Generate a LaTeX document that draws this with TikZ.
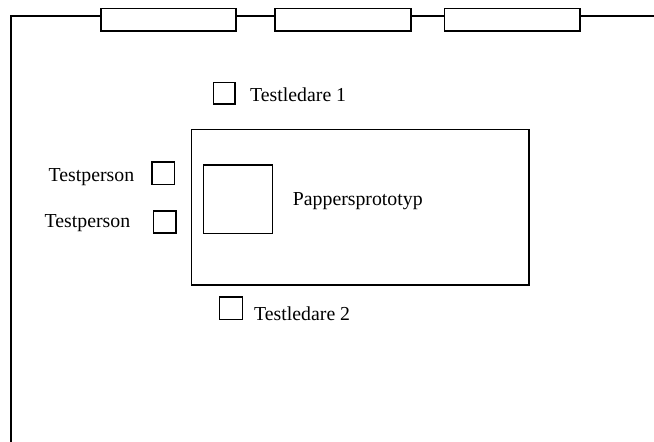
\documentclass[tikz,border=0pt]{standalone}
\usepackage{fontspec}
\setmainfont{Liberation Serif}
\begin{document}
\begin{tikzpicture}[x=1pt,y=-1pt,
  wall/.style={line width=1.6pt,line cap=rect},
  box/.style={draw,line width=1.6pt,rectangle,inner sep=0pt,outer sep=0pt,fill=white},
  label/.style={anchor=base west,inner sep=0pt,font=\fontsize{19.8}{24}\selectfont}]
  \useasboundingbox (0,0) rectangle (654,442);
  % room outline with the three window panels on the top wall
  \coordinate (bl) at (10.7,442);
  \coordinate (tl) at (10.7,15.7);
  \coordinate (tr) at (654,15.7);
  \node[box,minimum width=135.3pt,minimum height=22.7pt] (w1) at (168.4,19.65) {};
  \node[box,minimum width=136pt,minimum height=22.7pt] (w2) at (343,19.65) {};
  \node[box,minimum width=135.4pt,minimum height=22.7pt] (w3) at (512.3,19.65) {};
  \draw[wall] (bl) -- (tl) -- (tl -| w1.west);
  \draw[wall] (tl -| w1.east) -- (tl -| w2.west);
  \draw[wall] (tl -| w2.east) -- (tl -| w3.west);
  \draw[wall] (tl -| w3.east) -- (tr);
  % table with the paper prototype
  \node[box,minimum width=337.5pt,minimum height=155.7pt] (table) at (360.25,207.15) {};
  \node[box,minimum width=69pt,minimum height=68.3pt] (proto) at (237.8,199.15) {};
  \node[label] (protolbl) at (292.7,205) {Pappersprototyp};
  % seats
  \node[box,minimum width=21.7pt,minimum height=21.8pt] (tl1) at (224.15,93.2) {};
  \node[label] (tl1lbl) at (250,101.6) {Testledare 1};
  \node[box,minimum width=23pt,minimum height=22.6pt] (tl2) at (230.8,308) {};
  \node[label] (tl2lbl) at (254,320) {Testledare 2};
  \node[box,minimum width=22.6pt,minimum height=22.6pt] (tp1) at (163,173) {};
  \node[label] (tp1lbl) at (48.5,181.7) {Testperson};
  \node[box,minimum width=22.4pt,minimum height=22pt] (tp2) at (164.5,221.7) {};
  \node[label] (tp2lbl) at (44.5,227.2) {Testperson};
\end{tikzpicture}
\end{document}
